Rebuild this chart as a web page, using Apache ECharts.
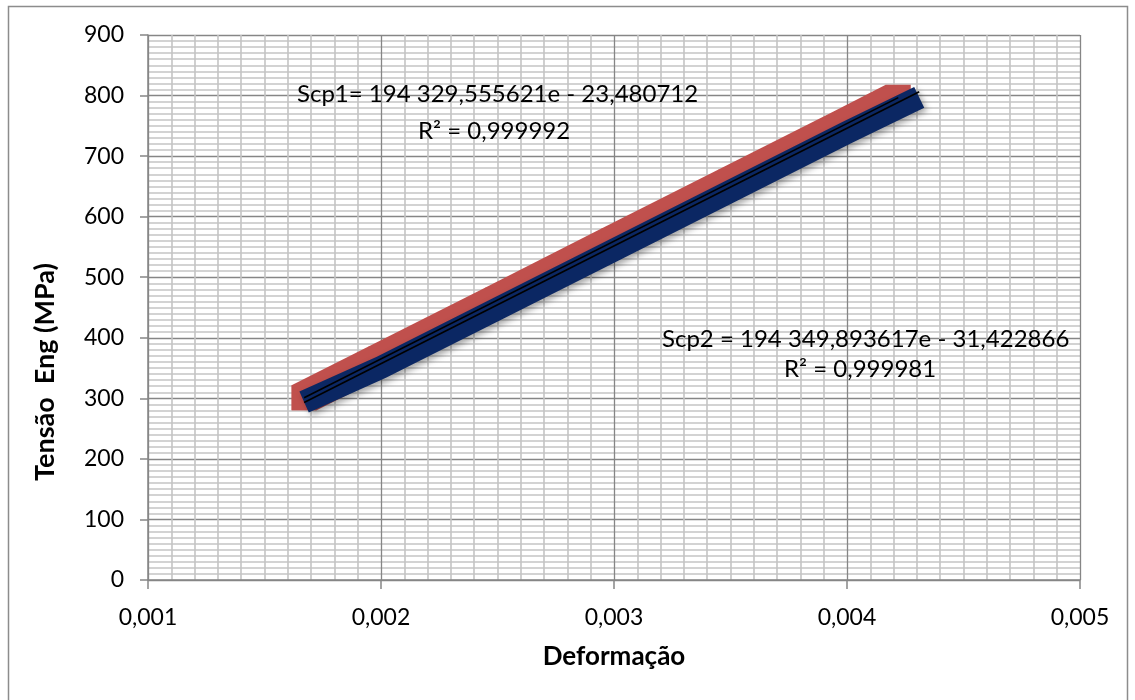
<!DOCTYPE html>
<html>
<head>
<meta charset="utf-8">
<script src="https://cdn.jsdelivr.net/npm/echarts@6/dist/echarts.min.js"></script>
<style>
  html, body { margin: 0; padding: 0; background: #fff; }
  #chart { width: 1135px; height: 700px; }
</style>
</head>
<body>
<div id="chart"></div>
<script>
// Tensile test, elastic region: engineering stress vs strain for two specimens
const strainScp1 = [0.00167, 0.0020, 0.0025, 0.0030, 0.0035, 0.0040, 0.00422];
const stressScp1 = [301, 365, 462, 560, 657, 754, 797];
const strainScp2 = [0.00167, 0.0020, 0.0025, 0.0030, 0.0035, 0.0040, 0.00431];
const stressScp2 = [294, 351, 448, 545, 642, 739, 797];

// Linear fits (slope, intercept) and their R² as printed on the chart
const fitScp1 = { a: 194329.555621, b: -23.480712, r2: '0,999992', label: 'Scp1= 194 329,555621e - 23,480712' };
const fitScp2 = { a: 194349.893617, b: -31.422866, r2: '0,999981', label: 'Scp2 = 194 349,893617e - 31,422866' };

const xTicks = { min: 0.001, max: 0.005, step: 0.001 };
const yTicks = { min: 0, max: 900, step: 100 };
const xTitle = 'Deformação';
const yTitle = 'Tensão  Eng (MPa)';

const FONT = 'Lato';
const MARKER = 25; // square marker edge for Scp1, px

function pairs(xs, ys) { return xs.map((x, i) => [x, ys[i]]); }
function fitLine(fit, xs) {
  const x0 = Math.min(...xs), x1 = Math.max(...xs);
  return [[x0, fit.a * x0 + fit.b], [x1, fit.a * x1 + fit.b]];
}

// Scp1 is drawn as a trail of large square markers: each item paints the
// hull swept by the square between the previous point and this one.
function squareTrail(params, api) {
  const i = params.dataIndex;
  const h = MARKER / 2;
  const p1 = api.coord([api.value(0), api.value(1)]);
  const p0 = i > 0 ? api.coord([strainScp1[i - 1], stressScp1[i - 1]]) : p1;
  const pts = [
    [p0[0] - h, p0[1] - h], [p1[0] - h, p1[1] - h], [p1[0] + h, p1[1] - h],
    [p1[0] + h, p1[1] + h], [p0[0] + h, p0[1] + h], [p0[0] - h, p0[1] + h]
  ];
  return {
    type: 'polygon',
    shape: { points: pts },
    style: { fill: '#c0504d', stroke: null }
  };
}

const chart = echarts.init(document.getElementById('chart'), null, { renderer: 'canvas' });

const axisColor = '#868686';
const minorColor = '#c4c4c4';

chart.setOption({
  animation: false,
  backgroundColor: '#ffffff',
  grid: { left: 148, right: 55, top: 35, bottom: 120, containLabel: false },
  xAxis: {
    type: 'value',
    min: xTicks.min, max: xTicks.max, interval: xTicks.step,
    name: xTitle,
    nameLocation: 'middle',
    nameGap: 64,
    nameTextStyle: { fontFamily: FONT, fontWeight: 'bold', fontSize: 26, color: '#000' },
    axisLine: { show: true, onZero: false, lineStyle: { color: axisColor, width: 1.5 } },
    axisTick: { show: true, length: 9, lineStyle: { color: axisColor, width: 1.5 } },
    axisLabel: {
      fontFamily: FONT, fontSize: 23, color: '#000', margin: 26,
      formatter: v => v.toFixed(3).replace('.', ',')
    },
    splitLine: { show: true, lineStyle: { color: axisColor, width: 1.3 } },
    minorTick: { show: false, splitNumber: 10 },
    minorSplitLine: { show: true, lineStyle: { color: minorColor, width: 1.6 } }
  },
  yAxis: {
    type: 'value',
    min: yTicks.min, max: yTicks.max, interval: yTicks.step,
    axisLine: { show: true, onZero: false, lineStyle: { color: axisColor, width: 1.5 } },
    axisTick: { show: true, length: 8, lineStyle: { color: axisColor, width: 1.5 } },
    axisLabel: { fontFamily: FONT, fontSize: 23, color: '#000', margin: 24 },
    splitLine: { show: true, lineStyle: { color: axisColor, width: 1.3 } },
    minorTick: { show: false, splitNumber: 10 },
    minorSplitLine: { show: true, lineStyle: { color: minorColor, width: 1.6 } }
  },
  series: [
    {
      name: 'Scp1', type: 'custom', data: pairs(strainScp1, stressScp1),
      renderItem: squareTrail,
      encode: { x: 0, y: 1 },
      z: 2
    },
    {
      name: 'Scp2', type: 'line', data: pairs(strainScp2, stressScp2),
      showSymbol: false, symbol: 'none',
      lineStyle: {
        color: '#0b2763', width: 23, cap: 'butt', join: 'miter',
        shadowColor: 'rgba(0,0,0,0.35)', shadowBlur: 6, shadowOffsetX: 3, shadowOffsetY: 3
      },
      z: 3
    },
    {
      name: 'Linear (Scp1)', type: 'line', data: fitLine(fitScp1, strainScp1),
      showSymbol: false, symbol: 'none',
      lineStyle: { color: '#000', width: 1.6 }, z: 4
    },
    {
      name: 'Linear (Scp2)', type: 'line', data: fitLine(fitScp2, strainScp2),
      showSymbol: false, symbol: 'none',
      lineStyle: { color: '#000', width: 1.6 }, z: 4
    }
  ],
  graphic: [
    {
      type: 'rect', silent: true, z: -1,
      shape: { x: 8.5, y: 6.5, width: 1119, height: 720 },
      style: { fill: 'none', stroke: '#8c8c8c', lineWidth: 1.5 }
    },
    {
      // vertical axis title
      type: 'text', z: 10, x: 45, y: 372, rotation: Math.PI / 2,
      style: { x: 0, y: 0, text: yTitle, fontFamily: FONT, fontWeight: 'bold', fontSize: 27, fill: '#000', align: 'center', verticalAlign: 'middle' }
    },
    {
      type: 'text', z: 10,
      style: { x: 297, y: 94, text: fitScp1.label, fontFamily: FONT, fontSize: 24, fill: '#000', verticalAlign: 'middle' }
    },
    {
      type: 'text', z: 10,
      style: { x: 418, y: 131, text: 'R² = ' + fitScp1.r2, fontFamily: FONT, fontSize: 24, fill: '#000', verticalAlign: 'middle' }
    },
    {
      type: 'text', z: 10,
      style: { x: 662, y: 339, text: fitScp2.label, fontFamily: FONT, fontSize: 24, fill: '#000', verticalAlign: 'middle' }
    },
    {
      type: 'text', z: 10,
      style: { x: 784, y: 369, text: 'R² = ' + fitScp2.r2, fontFamily: FONT, fontSize: 24, fill: '#000', verticalAlign: 'middle' }
    }
  ]
});
</script>
</body>
</html>
